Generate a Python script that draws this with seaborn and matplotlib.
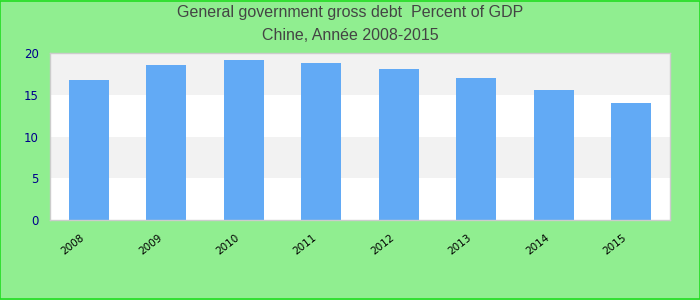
import matplotlib
matplotlib.use("Agg")
import matplotlib.pyplot as plt
import matplotlib.transforms as mtransforms
import seaborn as sns
import pandas as pd

years = ["2008", "2009", "2010", "2011", "2012", "2013", "2014", "2015"]
debt = [16.8, 18.6, 19.2, 18.8, 18.1, 17.0, 15.6, 14.0]
yticks = [0, 5, 10, 15, 20]
title_lines = ["General government gross debt  Percent of GDP", "Chine, Année 2008-2015"]

sns.set_theme(style="white")
plt.rcParams['font.family'] = ['Liberation Sans', 'DejaVu Sans']

df = pd.DataFrame({"year": years, "debt": debt})

fig = plt.figure(figsize=(7, 3), dpi=100, facecolor="#90ee90")
ax = fig.add_axes([50/700, 1-220/300, 620/700, 167/300])
ax.set_facecolor("white")

# alternating bands
for i in range(len(yticks) - 1):
    if i % 2 == 1:
        ax.axhspan(yticks[i], yticks[i+1], color="#f2f2f2", zorder=0, lw=0)

sns.barplot(data=df, x="year", y="debt", color="#62aaf5", saturation=1,
            width=0.52, ax=ax, zorder=2, linewidth=0, edgecolor="none")

ax.set_ylim(0, 20)
ax.set_xlim(-0.5, len(years) - 0.5)
ax.set_yticks(yticks)
ax.set_yticklabels([str(t) for t in yticks], color="#00008b", fontsize=8.5, family="DejaVu Sans")
ax.set_xticks(range(len(years)))
ax.set_xticklabels(years, rotation=38, fontsize=7.5, color="black", family="DejaVu Sans",
                   ha="right", va="top")
ax.tick_params(axis="x", pad=9, length=0)
ax.tick_params(axis="y", length=0, pad=8)
offset = mtransforms.ScaledTranslation(-2.5/100, 0, fig.dpi_scale_trans)
for lab in ax.get_xticklabels():
    lab.set_transform(lab.get_transform() + offset)
ax.set_xlabel("")
ax.set_ylabel("")
for s in ax.spines.values():
    s.set_color("#cccccc")
    s.set_linewidth(1)

fig.text(0.5, 1-13/300, title_lines[0], ha="center", va="center", fontsize=11.5, color="#444444")
fig.text(0.5, 1-36/300, title_lines[1], ha="center", va="center", fontsize=11.5, color="#444444")

# figure border
fig.patches.append(plt.Rectangle((0.0007, 0.0017), 0.9986, 0.9966, transform=fig.transFigure,
                                 fill=False, edgecolor="#22dd22", linewidth=1.2))

fig.savefig("out.png", dpi=100, facecolor=fig.get_facecolor())
